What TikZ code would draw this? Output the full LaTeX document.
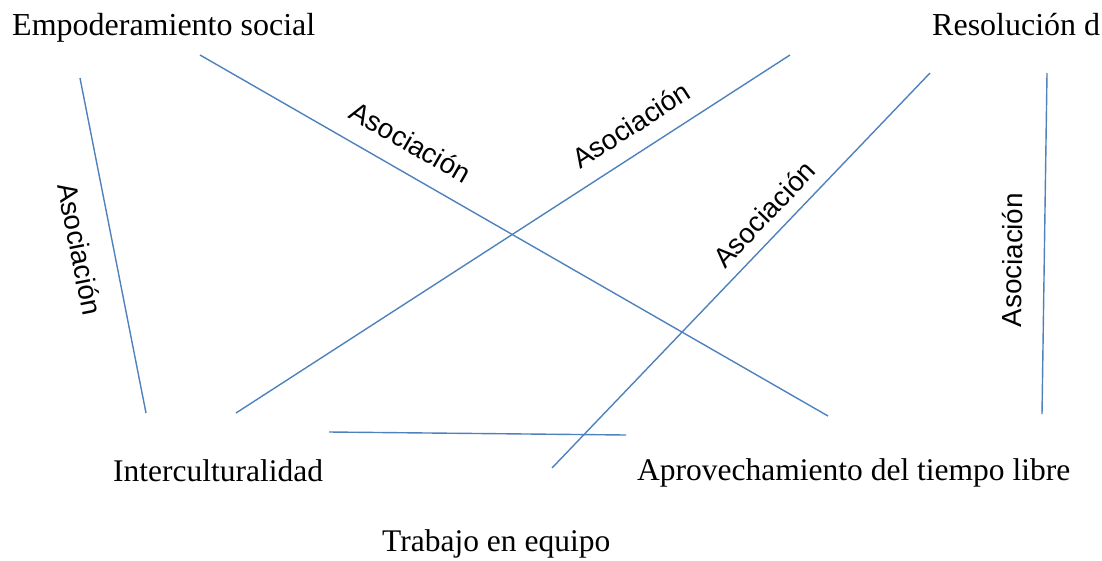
\documentclass[tikz,border=0pt]{standalone}
\usepackage{fontspec}
\setmainfont{Liberation Serif}
\newfontfamily\labfont{Liberation Sans}
\definecolor{linkblue}{RGB}{79,129,189}
\begin{document}
\begin{tikzpicture}[x=1pt,y=-1pt,
  concept/.style={anchor=base west,inner sep=0pt,font=\fontsize{31.5}{34}\selectfont},
  topconcept/.style={anchor=base west,inner sep=0pt,font=\fontsize{32}{34}\selectfont},
  link/.style={draw=linkblue,line width=1.4pt},
  linklabel/.style={inner sep=0pt,font=\labfont\fontsize{27.7}{30}\selectfont}]
\useasboundingbox (0,0) rectangle (1102,560);
% concepts
\node[topconcept] (emp) at (12,35) {Empoderamiento social};
\node[topconcept] (res) at (932,35) {Resolución d};
\node[concept] (inter) at (113,481) {Interculturalidad};
\node[concept] (aprov) at (637,480) {Aprovechamiento del tiempo libre};
\node[concept] (trab) at (382,551) {Trabajo en equipo};
% line end points
\coordinate (a1) at (80,78);   \coordinate (a2) at (146,413);
\coordinate (b1) at (200,55);  \coordinate (b2) at (828,416);
\coordinate (c1) at (790,55);  \coordinate (c2) at (236,413);
\coordinate (d1) at (930,73);  \coordinate (d2) at (552,468);
\coordinate (e1) at (1047,73); \coordinate (e2) at (1042,414);
\coordinate (f1) at (329,432); \coordinate (f2) at (626,435);
% connectors
\draw[link] (a1) -- (a2);
\draw[link] (b1) -- (b2);
\draw[link] (c1) -- (c2);
\draw[link] (d1) -- (d2);
\draw[link] (e1) -- (e2);
\draw[link] (f1) -- (f2);
% labels
\node[linklabel,rotate=-78.9] (la) at (80,249) {Asociación};
\node[linklabel,rotate=-29.9] (lb) at (411,142) {Asociación};
\node[linklabel,rotate=32.9] (lc) at (631,125) {Asociación};
\node[linklabel,rotate=46.3] (ld) at (764,214) {Asociación};
\node[linklabel,rotate=89.2] (le) at (1012,260) {Asociación};
\end{tikzpicture}
\end{document}
